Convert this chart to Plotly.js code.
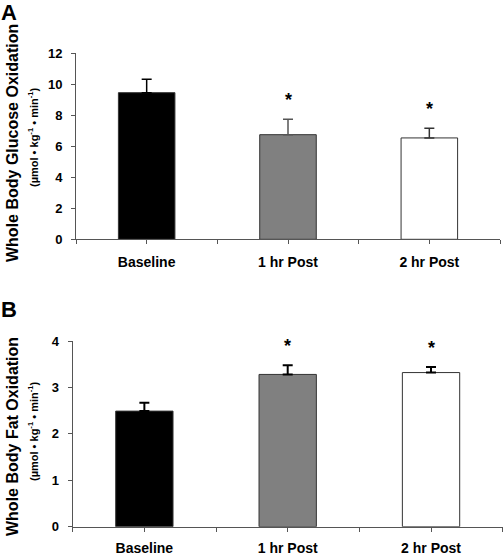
<!DOCTYPE html>
<html>
<head>
<meta charset="utf-8">
<script src="https://cdn.plot.ly/plotly-3.0.1.min.js"></script>
<style>html,body{margin:0;padding:0;background:#fff;}#chart{width:504px;height:554px;}</style>
</head>
<body>
<div id="chart"></div>
<script>
// ---- data ----
const categories = ["Baseline", "1 hr Post", "2 hr Post"];
const glucoseValues = [9.46, 6.75, 6.54];
const glucoseErrors = [0.86, 0.99, 0.62];
const fatValues = [2.49, 3.28, 3.32];
const fatErrors = [0.18, 0.20, 0.12];
const significant = [false, true, true];
const glucoseTicks = [0, 2, 4, 6, 8, 10, 12];
const fatTicks = [0, 1, 2, 3, 4];

// ---- styles ----
const barColors = ["#000000", "#808080", "#ffffff"];
const errColorsA = ["#000000", "#555555", "#333333"];
const errColorsB = ["#000000", "#000000", "#000000"];
const FONT = "Liberation Sans, Arial, sans-serif";
const W = 504, H = 554;

const xIdx = categories.map((c, i) => i);

const traces = [];
categories.forEach((c, i) => {
  traces.push({
    type: "bar", x: [xIdx[i]], y: [glucoseValues[i]], width: 0.4,
    xaxis: "x", yaxis: "y",
    marker: {color: barColors[i], line: {color: "#333333", width: 1}},
    error_y: {type: "data", symmetric: false, array: [glucoseErrors[i]], arrayminus: [0],
              color: errColorsA[i], thickness: 1.5, width: 5},
    showlegend: false, hoverinfo: "skip"
  });
  traces.push({
    type: "bar", x: [xIdx[i]], y: [fatValues[i]], width: 0.4,
    xaxis: "x2", yaxis: "y2",
    marker: {color: barColors[i], line: {color: "#333333", width: 1}},
    error_y: {type: "data", symmetric: false, array: [fatErrors[i]], arrayminus: [0],
              color: errColorsB[i], thickness: 2, width: 5},
    showlegend: false, hoverinfo: "skip"
  });
});

// x tick positions: category centres plus category boundaries
const tickPos = [];
const tickTxt = [];
for (let i = 0; i < categories.length; i++) {
  tickPos.push(i - 0.5); tickTxt.push("");
  tickPos.push(i); tickTxt.push(categories[i]);
}
tickPos.push(categories.length - 0.5); tickTxt.push("");

function py(p) { return 1 - p / H; }
function px(p) { return p / W; }

const axisCommon = {
  showline: true, linecolor: "#555555", linewidth: 1,
  ticks: "outside", ticklen: 4, tickcolor: "#555555", tickwidth: 1,
  showgrid: false, zeroline: false, fixedrange: true,
  tickfont: {family: FONT, size: 13, color: "#000", weight: "bold"}
};

const layout = {
  width: W, height: H,
  margin: {l: 0, r: 0, t: 0, b: 0},
  paper_bgcolor: "#fff", plot_bgcolor: "#fff",
  barmode: "overlay",
  font: {family: FONT, color: "#000"},
  xaxis: Object.assign({}, axisCommon, {
    domain: [px(76), px(500)], range: [-0.5, categories.length - 0.5],
    tickmode: "array", tickvals: tickPos, ticktext: tickTxt,
    ticklabelstandoff: 6, anchor: "y",
    tickfont: {family: FONT, size: 14, color: "#000", weight: "bold"}
  }),
  yaxis: Object.assign({}, axisCommon, {
    domain: [py(239.3), py(53.3)], range: [0, 12],
    tickmode: "array", tickvals: glucoseTicks, anchor: "x", ticklabelstandoff: 6
  }),
  xaxis2: Object.assign({}, axisCommon, {
    domain: [px(72.7), px(502.7)], range: [-0.5, categories.length - 0.5],
    tickmode: "array", tickvals: tickPos, ticktext: tickTxt,
    ticklabelstandoff: 4, anchor: "y2",
    tickfont: {family: FONT, size: 14, color: "#000", weight: "bold"}
  }),
  yaxis2: Object.assign({}, axisCommon, {
    domain: [py(526.7), py(341)], range: [0, 4],
    tickmode: "array", tickvals: fatTicks, anchor: "x2", ticklabelstandoff: 6
  }),
  annotations: []
};

// panel letters
layout.annotations.push({xref: "paper", yref: "paper", x: px(-1), y: py(-2), xanchor: "left", yanchor: "top",
  text: "<b>A</b>", showarrow: false, font: {family: FONT, size: 22, color: "#000"}});
layout.annotations.push({xref: "paper", yref: "paper", x: px(-1), y: py(295), xanchor: "left", yanchor: "top",
  text: "<b>B</b>", showarrow: false, font: {family: FONT, size: 22, color: "#000"}});

// y titles
const unitText = "<b>(µmol • kg<sup>-1</sup> • min<sup>-1</sup>)</b>";
function rotTitle(x, y, text, size) {
  return {xref: "paper", yref: "paper", x: px(x), y: py(y), xanchor: "center", yanchor: "middle",
    textangle: -90, text: text, showarrow: false, font: {family: FONT, size: size, color: "#000"}};
}
layout.annotations.push(rotTitle(12, 143, "<b>Whole Body Glucose Oxidation</b>", 16));
layout.annotations.push(rotTitle(33, 137, unitText, 11));
layout.annotations.push(rotTitle(12, 437, "<b>Whole Body Fat Oxidation</b>", 16));
layout.annotations.push(rotTitle(33, 431, unitText, 11));

// significance asterisks
categories.forEach((c, i) => {
  if (!significant[i]) return;
  layout.annotations.push({xref: "x", yref: "y", x: xIdx[i], y: glucoseValues[i] + glucoseErrors[i],
    xanchor: "center", yanchor: "middle", yshift: 19, text: "<b>*</b>", showarrow: false,
    font: {family: FONT, size: 18, color: "#000"}});
  layout.annotations.push({xref: "x2", yref: "y2", x: xIdx[i], y: fatValues[i] + fatErrors[i],
    xanchor: "center", yanchor: "middle", yshift: 19, text: "<b>*</b>", showarrow: false,
    font: {family: FONT, size: 18, color: "#000"}});
});

Plotly.newPlot("chart", traces, layout, {displayModeBar: false, staticPlot: true});
</script>
</body>
</html>
